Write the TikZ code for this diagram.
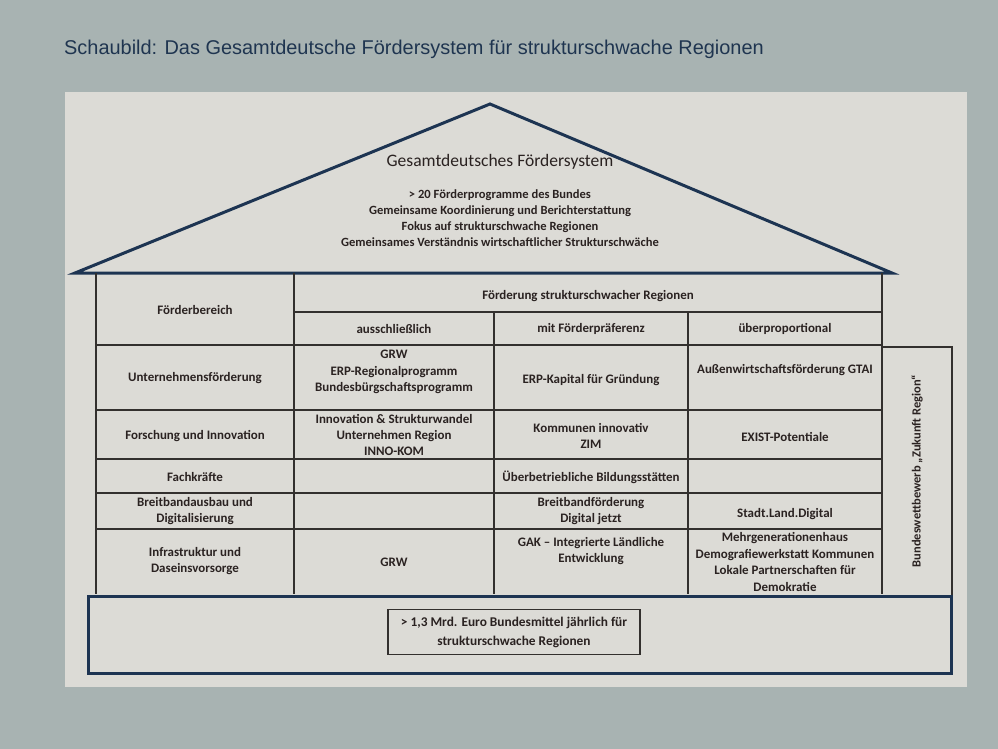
\documentclass[tikz,border=0pt]{standalone}
\usepackage{fontspec}
\setmainfont{Carlito}
\newfontfamily\titlefont{Liberation Sans}
\definecolor{outerbg}{HTML}{A8B3B2}
\definecolor{panelbg}{HTML}{DCDBD6}
\definecolor{navy}{HTML}{1D3452}
\definecolor{ink}{HTML}{2A2221}
\definecolor{gridline}{HTML}{33302E}
\definecolor{titleblue}{HTML}{1F3550}
\begin{document}
\begin{tikzpicture}[x=1bp,y=-1bp,
  roofline/.style={draw=navy, line width=3bp, line join=miter},
  gridl/.style={draw=gridline, line width=1.1bp},
  cell/.style={align=center, font=\fontsize{13}{16.5}\selectfont\bfseries, text=ink, inner sep=0pt},
  rooftxt/.style={align=center, font=\fontsize{12.6}{16.3}\selectfont\bfseries, text=ink, inner sep=0pt}]
\useasboundingbox (0,0) rectangle (998,749);
\fill[outerbg] (0,0) rectangle (998,749);
\fill[panelbg] (65,92) rectangle (967,687);

% title
\node[anchor=base west, inner sep=0pt, text=titleblue,
  font=\titlefont\fontsize{20}{24}\selectfont] (title) at (64,55)
  {Schaubild: Das Gesamtdeutsche Fördersystem für strukturschwache Regionen};

% roof
\coordinate (apex) at (490,104);
\coordinate (eaveL) at (75,273);
\coordinate (eaveR) at (892,273);
\draw[roofline] (eaveL) -- (apex) -- (eaveR) -- cycle;
\node[inner sep=0pt, text=ink, font=\fontsize{17.6}{20}\selectfont] (rooftitle) at (500,162) {Gesamtdeutsches Fördersystem};
\node[rooftxt] (roofbody) at (500,218) {> 20 Förderprogramme des Bundes\\Gemeinsame Koordinierung und Berichterstattung\\Fokus auf strukturschwache Regionen\\Gemeinsames Verständnis wirtschaftlicher Strukturschwäche};

% table grid
\draw[gridl] (96,273) -- (96,594);
\draw[gridl] (882,273) -- (882,594);
\draw[gridl] (294,273) -- (294,594);
\draw[gridl] (494,312) -- (494,594);
\draw[gridl] (688,312) -- (688,594);
\draw[gridl] (294,312) -- (882,312);
\foreach \yy in {345,410,459,493,529} \draw[gridl] (96,\yy) -- (882,\yy);
% side box
\draw[gridl] (882,347) -- (952,347) -- (952,596);

% header
\node[cell] (h1) at (195,310) {Förderbereich};
\node[cell] (h2) at (588,296) {Förderung strukturschwacher Regionen};
\node[cell] (h3) at (394,329) {ausschließlich};
\node[cell] (h4) at (591,329) {mit Förderpräferenz};
\node[cell] (h5) at (785,329) {überproportional};

% row 1
\node[cell] (r1a) at (195,378) {Unternehmensförderung};
\node[cell] (r1b) at (394,372) {GRW\\ERP-Regionalprogramm\\Bundesbürgschaftsprogramm};
\node[cell] (r1c) at (591,380) {ERP-Kapital für Gründung};
\node[cell] (r1d) at (785,370) {Außenwirtschaftsförderung GTAI};
% row 2
\node[cell] (r2a) at (195,436) {Forschung und Innovation};
\node[cell] (r2b) at (394,435) {Innovation \& Strukturwandel\\Unternehmen Region\\INNO-KOM};
\node[cell] (r2c) at (591,436) {Kommunen innovativ\\ZIM};
\node[cell] (r2d) at (785,437) {EXIST-Potentiale};
% row 3
\node[cell] (r3a) at (195,477) {Fachkräfte};
\node[cell] (r3c) at (591,477) {Überbetriebliche Bildungsstätten};
% row 4
\node[cell] (r4a) at (195,511) {Breitbandausbau und\\Digitalisierung};
\node[cell] (r4c) at (591,511) {Breitbandförderung\\Digital jetzt};
\node[cell] (r4d) at (785,514) {Stadt.Land.Digital};
% row 5
\node[cell] (r5a) at (195,561) {Infrastruktur und\\Daseinsvorsorge};
\node[cell] (r5b) at (394,562) {GRW};
\node[cell] (r5c) at (591,551) {GAK – Integrierte Ländliche\\Entwicklung};
\node[cell] (r5d) at (785,562) {Mehrgenerationenhaus\\Demografiewerkstatt Kommunen\\Lokale Partnerschaften für\\Demokratie};

% vertical label
\node[cell, rotate=90, font=\fontsize{12.5}{15}\selectfont\bfseries] (side) at (917,471) {Bundeswettbewerb „Zukunft Region“};

% foundation
\draw[navy, line width=3bp] (88,596) rectangle (951,673);
\node[draw=gridline, line width=1.1bp, minimum width=252bp, minimum height=45bp,
  align=center, text=ink, inner sep=0pt,
  font=\fontsize{13.4}{19}\selectfont\bfseries] (fund) at (514,632)
  {> 1,3 Mrd. Euro Bundesmittel jährlich für\\strukturschwache Regionen};
\end{tikzpicture}
\end{document}
